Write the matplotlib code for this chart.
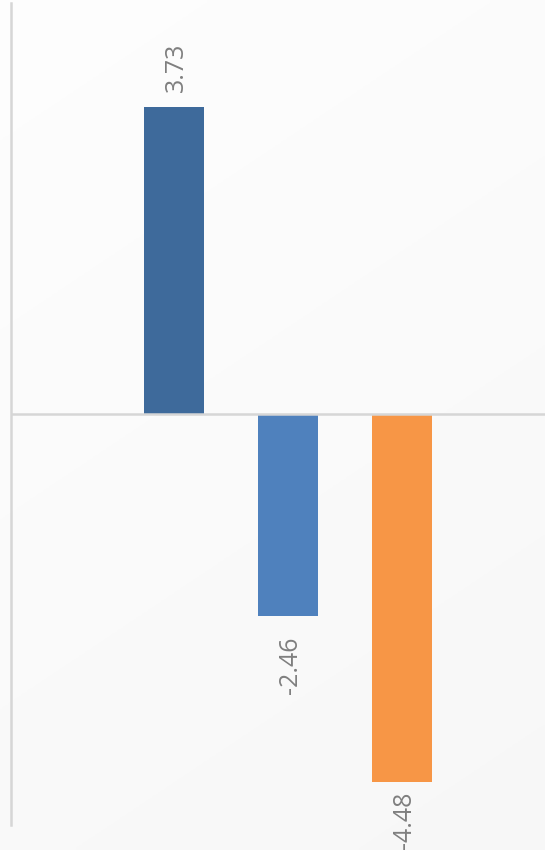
import matplotlib.pyplot as plt
import numpy as np

# values
series = ["A", "B", "C"]
values = [3.73, -2.46, -4.48]
labels = ["3.73", "-2.46", "-4.48"]
colors = ["#3e6a9b", "#4f81bd", "#f79646"]
label_gap = [15, 20, 9]  # px between bar end and its label

plt.rcParams['font.family'] = ['Open Sans', 'DejaVu Sans']

fig = plt.figure(figsize=(5.45, 8.5), dpi=100)

# soft background gradient, whiter at top left
bg = fig.add_axes([0, 0, 1, 1], zorder=-10)
yy, xx = np.mgrid[0:1:200j, 0:1:200j]
shade = 0.995 - 0.025 * np.clip(0.7 * yy + 0.3 * xx, 0, 1)
bg.imshow(np.dstack([shade] * 3), extent=[0, 1, 0, 1], aspect="auto")
bg.axis("off")

ax = fig.add_axes([11 / 545, 25 / 850, 534 / 545, 822 / 850])
ax.patch.set_alpha(0)

x = np.arange(len(values))
ax.bar(x, values, width=60 / 114, color=colors, zorder=2)

ax.set_xlim(-163 / 114, (545 - 174) / 114)
ax.set_ylim(-5, 5)

ax.axhline(0, color="#d6d6d6", lw=1.8, zorder=3)
for s in ["top", "right", "bottom"]:
    ax.spines[s].set_visible(False)
ax.spines["left"].set_color("#d6d6d6")
ax.spines["left"].set_linewidth(1.8)
ax.set_xticks([])
ax.set_yticks([])

for xi, v, lab, gap in zip(x, values, labels, label_gap):
    off = gap * 0.72  # px -> points
    ax.annotate(lab, (xi, v), xytext=(2, off if v > 0 else -off),
                textcoords="offset points", rotation=90,
                ha="center", va="bottom" if v > 0 else "top",
                fontsize=18, color="#7f7f7f", annotation_clip=False)

fig.savefig("out.png", dpi=100)
